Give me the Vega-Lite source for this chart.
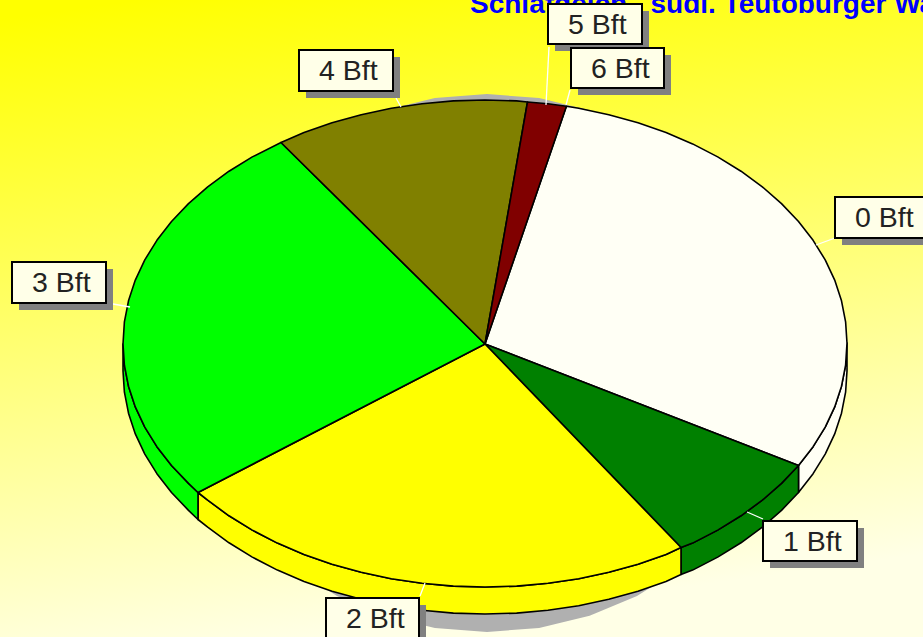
{"$schema":"https://vega.github.io/schema/vega-lite/v6.json","width":923,"height":637,"autosize":"none","padding":0,"background":"#FFFFCC",
"datasets":{
"bg":[{"x":0,"y":0,"x2":923,"y2":637}],
"shadow":[{"i":0,"x":787,"y":363},{"i":1,"x":782.4,"y":316.3},{"i":2,"x":768.9,"y":271},{"i":3,"x":746.8,"y":228.5},{"i":4,"x":716.8,"y":190.1},{"i":5,"x":679.8,"y":156.9},{"i":6,"x":637,"y":130},{"i":7,"x":589.6,"y":110.2},{"i":8,"x":539.1,"y":98.1},{"i":9,"x":487,"y":94},{"i":10,"x":434.9,"y":98.1},{"i":11,"x":384.4,"y":110.2},{"i":12,"x":337,"y":130},{"i":13,"x":294.2,"y":156.9},{"i":14,"x":257.2,"y":190.1},{"i":15,"x":227.2,"y":228.5},{"i":16,"x":205.1,"y":271},{"i":17,"x":191.6,"y":316.3},{"i":18,"x":187,"y":363},{"i":19,"x":191.6,"y":409.7},{"i":20,"x":205.1,"y":455},{"i":21,"x":227.2,"y":497.5},{"i":22,"x":257.2,"y":535.9},{"i":23,"x":294.2,"y":569.1},{"i":24,"x":337,"y":596},{"i":25,"x":384.4,"y":615.8},{"i":26,"x":434.9,"y":627.9},{"i":27,"x":487,"y":632},{"i":28,"x":539.1,"y":627.9},{"i":29,"x":589.6,"y":615.8},{"i":30,"x":637,"y":596},{"i":31,"x":679.8,"y":569.1},{"i":32,"x":716.8,"y":535.9},{"i":33,"x":746.8,"y":497.5},{"i":34,"x":768.9,"y":455},{"i":35,"x":782.4,"y":409.7}],
"walls":[
{"bft":"0 Bft","i":0,"x":847,"y":343},{"bft":"0 Bft","i":1,"x":845.6,"y":365.2},{"bft":"0 Bft","i":2,"x":841.5,"y":386.2},{"bft":"0 Bft","i":3,"x":834.7,"y":406.9},{"bft":"0 Bft","i":4,"x":825.2,"y":427.1},{"bft":"0 Bft","i":5,"x":813.1,"y":446.7},{"bft":"0 Bft","i":6,"x":798.5,"y":465.5},{"bft":"0 Bft","i":7,"x":798.5,"y":492.5},{"bft":"0 Bft","i":8,"x":813.1,"y":473.7},{"bft":"0 Bft","i":9,"x":825.2,"y":454.1},{"bft":"0 Bft","i":10,"x":834.7,"y":433.9},{"bft":"0 Bft","i":11,"x":841.5,"y":413.2},{"bft":"0 Bft","i":12,"x":845.6,"y":392.2},{"bft":"0 Bft","i":13,"x":847,"y":371},
{"bft":"1 Bft","i":0,"x":798.5,"y":465.5},{"bft":"1 Bft","i":1,"x":781.5,"y":483.4},{"bft":"1 Bft","i":2,"x":762.3,"y":500.2},{"bft":"1 Bft","i":3,"x":741,"y":515.8},{"bft":"1 Bft","i":4,"x":717.7,"y":530.1},{"bft":"1 Bft","i":5,"x":692.6,"y":543.1},{"bft":"1 Bft","i":6,"x":681,"y":547.5},{"bft":"1 Bft","i":7,"x":681,"y":574.5},{"bft":"1 Bft","i":8,"x":692.6,"y":570.1},{"bft":"1 Bft","i":9,"x":717.7,"y":557.1},{"bft":"1 Bft","i":10,"x":741,"y":542.8},{"bft":"1 Bft","i":11,"x":762.3,"y":527.2},{"bft":"1 Bft","i":12,"x":781.5,"y":510.4},{"bft":"1 Bft","i":13,"x":798.5,"y":492.5},
{"bft":"2 Bft","i":0,"x":681,"y":547.5},{"bft":"2 Bft","i":1,"x":666,"y":554.4},{"bft":"2 Bft","i":2,"x":638,"y":564.2},{"bft":"2 Bft","i":3,"x":608.8,"y":572.3},{"bft":"2 Bft","i":4,"x":578.7,"y":578.7},{"bft":"2 Bft","i":5,"x":547.9,"y":583.3},{"bft":"2 Bft","i":6,"x":516.6,"y":586.1},{"bft":"2 Bft","i":7,"x":485,"y":587},{"bft":"2 Bft","i":8,"x":453.4,"y":586.1},{"bft":"2 Bft","i":9,"x":422.1,"y":583.3},{"bft":"2 Bft","i":10,"x":391.3,"y":578.7},{"bft":"2 Bft","i":11,"x":361.2,"y":572.3},{"bft":"2 Bft","i":12,"x":332,"y":564.2},{"bft":"2 Bft","i":13,"x":304,"y":554.4},{"bft":"2 Bft","i":14,"x":277.4,"y":543.1},{"bft":"2 Bft","i":15,"x":252.3,"y":530.1},{"bft":"2 Bft","i":16,"x":229,"y":515.8},{"bft":"2 Bft","i":17,"x":207.7,"y":500.2},{"bft":"2 Bft","i":18,"x":198,"y":492.5},{"bft":"2 Bft","i":19,"x":198,"y":519.5},{"bft":"2 Bft","i":20,"x":207.7,"y":527.2},{"bft":"2 Bft","i":21,"x":229,"y":542.8},{"bft":"2 Bft","i":22,"x":252.3,"y":557.1},{"bft":"2 Bft","i":23,"x":277.4,"y":570.1},{"bft":"2 Bft","i":24,"x":304,"y":581.4},{"bft":"2 Bft","i":25,"x":332,"y":591.2},{"bft":"2 Bft","i":26,"x":361.2,"y":599.3},{"bft":"2 Bft","i":27,"x":391.3,"y":605.7},{"bft":"2 Bft","i":28,"x":422.1,"y":610.3},{"bft":"2 Bft","i":29,"x":453.4,"y":613.1},{"bft":"2 Bft","i":30,"x":485,"y":614},{"bft":"2 Bft","i":31,"x":516.6,"y":613.1},{"bft":"2 Bft","i":32,"x":547.9,"y":610.3},{"bft":"2 Bft","i":33,"x":578.7,"y":605.7},{"bft":"2 Bft","i":34,"x":608.8,"y":599.3},{"bft":"2 Bft","i":35,"x":638,"y":591.2},{"bft":"2 Bft","i":36,"x":666,"y":581.4},{"bft":"2 Bft","i":37,"x":681,"y":574.5},
{"bft":"3 Bft","i":0,"x":198,"y":492.5},{"bft":"3 Bft","i":1,"x":188.5,"y":483.4},{"bft":"3 Bft","i":2,"x":171.5,"y":465.5},{"bft":"3 Bft","i":3,"x":156.9,"y":446.7},{"bft":"3 Bft","i":4,"x":144.8,"y":427.1},{"bft":"3 Bft","i":5,"x":135.3,"y":406.9},{"bft":"3 Bft","i":6,"x":128.5,"y":386.2},{"bft":"3 Bft","i":7,"x":124.4,"y":365.2},{"bft":"3 Bft","i":8,"x":123,"y":344},{"bft":"3 Bft","i":9,"x":123,"y":371},{"bft":"3 Bft","i":10,"x":124.4,"y":392.2},{"bft":"3 Bft","i":11,"x":128.5,"y":413.2},{"bft":"3 Bft","i":12,"x":135.3,"y":433.9},{"bft":"3 Bft","i":13,"x":144.8,"y":454.1},{"bft":"3 Bft","i":14,"x":156.9,"y":473.7},{"bft":"3 Bft","i":15,"x":171.5,"y":492.5},{"bft":"3 Bft","i":16,"x":188.5,"y":510.4},{"bft":"3 Bft","i":17,"x":198,"y":519.5}],
"tops":[
{"bft":"0 Bft","i":0,"x":485,"y":344},{"bft":"0 Bft","i":1,"x":798.5,"y":465.5},{"bft":"0 Bft","i":2,"x":813.1,"y":446.7},{"bft":"0 Bft","i":3,"x":825.2,"y":427.1},{"bft":"0 Bft","i":4,"x":834.7,"y":406.9},{"bft":"0 Bft","i":5,"x":841.5,"y":386.2},{"bft":"0 Bft","i":6,"x":845.6,"y":365.2},{"bft":"0 Bft","i":7,"x":847,"y":343},{"bft":"0 Bft","i":8,"x":845.6,"y":321.8},{"bft":"0 Bft","i":9,"x":841.5,"y":300.8},{"bft":"0 Bft","i":10,"x":834.7,"y":280.1},{"bft":"0 Bft","i":11,"x":825.2,"y":259.9},{"bft":"0 Bft","i":12,"x":813.1,"y":240.3},{"bft":"0 Bft","i":13,"x":798.5,"y":221.5},{"bft":"0 Bft","i":14,"x":781.5,"y":203.6},{"bft":"0 Bft","i":15,"x":762.3,"y":186.8},{"bft":"0 Bft","i":16,"x":741,"y":171.2},{"bft":"0 Bft","i":17,"x":717.7,"y":156.9},{"bft":"0 Bft","i":18,"x":692.6,"y":143.9},{"bft":"0 Bft","i":19,"x":666,"y":132.6},{"bft":"0 Bft","i":20,"x":638,"y":122.8},{"bft":"0 Bft","i":21,"x":608.8,"y":114.7},{"bft":"0 Bft","i":22,"x":578.7,"y":108.3},{"bft":"0 Bft","i":23,"x":566.4,"y":106.2},
{"bft":"1 Bft","i":0,"x":485,"y":344},{"bft":"1 Bft","i":1,"x":681,"y":547.5},{"bft":"1 Bft","i":2,"x":692.6,"y":543.1},{"bft":"1 Bft","i":3,"x":717.7,"y":530.1},{"bft":"1 Bft","i":4,"x":741,"y":515.8},{"bft":"1 Bft","i":5,"x":762.3,"y":500.2},{"bft":"1 Bft","i":6,"x":781.5,"y":483.4},{"bft":"1 Bft","i":7,"x":798.5,"y":465.5},
{"bft":"2 Bft","i":0,"x":485,"y":344},{"bft":"2 Bft","i":1,"x":198,"y":492.5},{"bft":"2 Bft","i":2,"x":207.7,"y":500.2},{"bft":"2 Bft","i":3,"x":229,"y":515.8},{"bft":"2 Bft","i":4,"x":252.3,"y":530.1},{"bft":"2 Bft","i":5,"x":277.4,"y":543.1},{"bft":"2 Bft","i":6,"x":304,"y":554.4},{"bft":"2 Bft","i":7,"x":332,"y":564.2},{"bft":"2 Bft","i":8,"x":361.2,"y":572.3},{"bft":"2 Bft","i":9,"x":391.3,"y":578.7},{"bft":"2 Bft","i":10,"x":422.1,"y":583.3},{"bft":"2 Bft","i":11,"x":453.4,"y":586.1},{"bft":"2 Bft","i":12,"x":485,"y":587},{"bft":"2 Bft","i":13,"x":516.6,"y":586.1},{"bft":"2 Bft","i":14,"x":547.9,"y":583.3},{"bft":"2 Bft","i":15,"x":578.7,"y":578.7},{"bft":"2 Bft","i":16,"x":608.8,"y":572.3},{"bft":"2 Bft","i":17,"x":638,"y":564.2},{"bft":"2 Bft","i":18,"x":666,"y":554.4},{"bft":"2 Bft","i":19,"x":681,"y":547.5},
{"bft":"3 Bft","i":0,"x":485,"y":344},{"bft":"3 Bft","i":1,"x":281,"y":142.5},{"bft":"3 Bft","i":2,"x":252.3,"y":156.9},{"bft":"3 Bft","i":3,"x":229,"y":171.2},{"bft":"3 Bft","i":4,"x":207.7,"y":186.8},{"bft":"3 Bft","i":5,"x":188.5,"y":203.6},{"bft":"3 Bft","i":6,"x":171.5,"y":221.5},{"bft":"3 Bft","i":7,"x":156.9,"y":240.3},{"bft":"3 Bft","i":8,"x":144.8,"y":259.9},{"bft":"3 Bft","i":9,"x":135.3,"y":280.1},{"bft":"3 Bft","i":10,"x":128.5,"y":300.8},{"bft":"3 Bft","i":11,"x":124.4,"y":321.8},{"bft":"3 Bft","i":12,"x":123,"y":344},{"bft":"3 Bft","i":13,"x":124.4,"y":365.2},{"bft":"3 Bft","i":14,"x":128.5,"y":386.2},{"bft":"3 Bft","i":15,"x":135.3,"y":406.9},{"bft":"3 Bft","i":16,"x":144.8,"y":427.1},{"bft":"3 Bft","i":17,"x":156.9,"y":446.7},{"bft":"3 Bft","i":18,"x":171.5,"y":465.5},{"bft":"3 Bft","i":19,"x":188.5,"y":483.4},{"bft":"3 Bft","i":20,"x":198,"y":492.5},
{"bft":"4 Bft","i":0,"x":485,"y":344},{"bft":"4 Bft","i":1,"x":527.5,"y":102},{"bft":"4 Bft","i":2,"x":516.6,"y":100.9},{"bft":"4 Bft","i":3,"x":485,"y":100},{"bft":"4 Bft","i":4,"x":453.4,"y":100.9},{"bft":"4 Bft","i":5,"x":422.1,"y":103.7},{"bft":"4 Bft","i":6,"x":391.3,"y":108.3},{"bft":"4 Bft","i":7,"x":361.2,"y":114.7},{"bft":"4 Bft","i":8,"x":332,"y":122.8},{"bft":"4 Bft","i":9,"x":304,"y":132.6},{"bft":"4 Bft","i":10,"x":281,"y":142.5},
{"bft":"5 Bft","i":0,"x":485,"y":344},{"bft":"5 Bft","i":1,"x":566.4,"y":106.2},{"bft":"5 Bft","i":2,"x":547.9,"y":103.7},{"bft":"5 Bft","i":3,"x":527.5,"y":102}],
"leaders":[{"x":546,"y":105,"x2":549,"y2":47},{"x":566,"y":105,"x2":570,"y2":90},{"x":401,"y":107,"x2":396,"y2":98},{"x":130,"y":307,"x2":113,"y2":304},{"x":420,"y":596,"x2":425,"y2":583},{"x":747,"y":512,"x2":763,"y2":519},{"x":816,"y":245,"x2":835,"y2":238}],
"labels":[{"text":"5 Bft","x":548,"y":4,"x2":642,"y2":44},{"text":"6 Bft","x":571,"y":48,"x2":664,"y2":88},{"text":"4 Bft","x":299,"y":50,"x2":393,"y2":91},{"text":"3 Bft","x":12,"y":262,"x2":106,"y2":303},{"text":"2 Bft","x":326,"y":598,"x2":419,"y2":639},{"text":"1 Bft","x":763,"y":521,"x2":857,"y2":561},{"text":"0 Bft","x":835,"y":197,"x2":929,"y2":238}],
"title":[{"text":"Schlafdeich\u00a0\u00a0\u00a0südl. Teutoburger Wald","x":470,"y":13}]
},
"data":{"name":"bg"},
"encoding":{"x":{"field":"x","type":"quantitative","axis":null,"scale":{"domain":[0,923],"nice":false,"zero":false}},"y":{"field":"y","type":"quantitative","axis":null,"scale":{"domain":[0,637],"reverse":true,"nice":false,"zero":false}}},
"layer":[
{"data":{"name":"bg"},"mark":{"type":"rect","fill":{"gradient":"linear","x1":0.15,"y1":0,"x2":0.35,"y2":1,"stops":[{"offset":0,"color":"#FFFF00"},{"offset":1,"color":"#FFFFE6"}]}},"encoding":{"x2":{"field":"x2"},"y2":{"field":"y2"}}},
{"data":{"name":"title"},"mark":{"type":"text","align":"left","baseline":"alphabetic","font":"Liberation Sans","fontWeight":"bold","fontSize":28,"fill":"#0000FF"},"encoding":{"text":{"field":"text"}}},
{"data":{"name":"shadow"},"mark":{"type":"line","interpolate":"linear-closed","fill":"#B0B0B0","stroke":null},"encoding":{"order":{"field":"i"}}},
{"data":{"name":"walls"},"mark":{"type":"line","interpolate":"linear-closed","stroke":"#000000","strokeWidth":1.6,"strokeJoin":"round"},"encoding":{"order":{"field":"i"},"detail":{"field":"bft"},"fill":{"field":"bft","type":"nominal","legend":null,"scale":{"domain":["0 Bft","1 Bft","2 Bft","3 Bft","4 Bft","5 Bft"],"range":["#FFFFF5","#008000","#FFFF00","#00FF00","#808000","#800000"]}}}},
{"data":{"name":"tops"},"mark":{"type":"line","interpolate":"linear-closed","stroke":"#000000","strokeWidth":1.6,"strokeJoin":"round"},"encoding":{"order":{"field":"i"},"detail":{"field":"bft"},"fill":{"field":"bft","type":"nominal","legend":null}}},
{"data":{"name":"leaders"},"mark":{"type":"rule","stroke":"#FFFFFF","strokeWidth":1.3},"encoding":{"x2":{"field":"x2"},"y2":{"field":"y2"}}},
{"data":{"name":"labels"},"mark":{"type":"rect","fill":"#808080","xOffset":7,"x2Offset":7,"yOffset":7,"y2Offset":7},"encoding":{"x2":{"field":"x2"},"y2":{"field":"y2"}}},
{"data":{"name":"labels"},"mark":{"type":"rect","fill":"#FFFFE8","stroke":"#000000","strokeWidth":2},"encoding":{"x2":{"field":"x2"},"y2":{"field":"y2"}}},
{"data":{"name":"labels"},"mark":{"type":"text","align":"left","baseline":"alphabetic","font":"Liberation Sans","fontSize":28.5,"fill":"#222222","xOffset":20,"yOffset":29.5},"encoding":{"text":{"field":"text"}}}
],
"config":{"view":{"stroke":null}}}
